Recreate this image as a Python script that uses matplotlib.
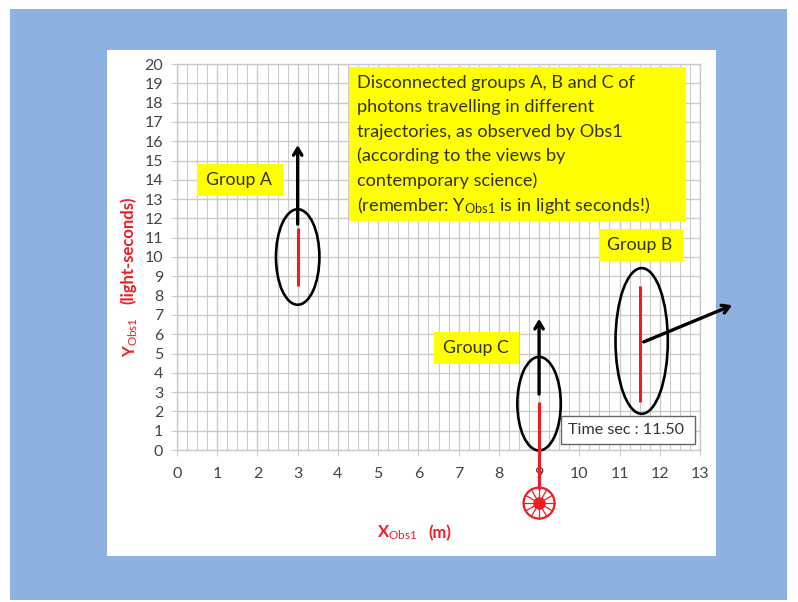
import numpy as np
import matplotlib
matplotlib.use("Agg")
import matplotlib.pyplot as plt
from matplotlib.patches import Ellipse, Rectangle

plt.rcParams['font.family'] = ['Lato', 'DejaVu Sans']
plt.rcParams['mathtext.fontset'] = 'custom'
plt.rcParams['mathtext.rm'] = 'Lato'
plt.rcParams['mathtext.default'] = 'rm'

W, H = 798, 602
RED = '#ee1c25'
GRID = '#cacaca'
TICK = '#444444'

x_ticks = list(range(0, 14))
y_ticks = list(range(0, 21))

# group ellipses: centre x, centre y, width, height
ellipse_x = [3.0, 9.0, 11.55]
ellipse_y = [10.0, 2.4, 5.65]
ellipse_w = [1.08, 1.08, 1.3]
ellipse_h = [4.95, 4.85, 7.55]

# red photon lines
red_x = [3.0, 9.0, 11.5]
red_start = [8.5, -2.0, 2.5]
red_end = [11.5, 2.5, 8.5]

# velocity arrows
arrow_from = [(3.0, 11.7), (9.0, 2.9), (11.6, 5.6)]
arrow_to = [(3.0, 15.8), (9.0, 6.8), (13.8, 7.5)]

observer = (9.0, -2.75)
time_label = 'Time sec : 11.50'

fig = plt.figure(figsize=(W / 100, H / 100), dpi=100, facecolor='white')


def fig_rect(x0, y0, x1, y1, **kw):
    # pixel box, y measured from the top
    fig.add_artist(Rectangle((x0 / W, 1 - y1 / H), (x1 - x0) / W, (y1 - y0) / H,
                             transform=fig.transFigure, zorder=-5, **kw))


fig_rect(10, 9, 787, 600, facecolor='#8db2e2', edgecolor='none')
fig_rect(107, 50, 716, 556, facecolor='white', edgecolor='none')

ax = fig.add_axes([177 / W, 1 - 450 / H, (700 - 177) / W, (450 - 64) / H])
ax.set_xlim(0, 13)
ax.set_ylim(0, 20)
ax.patch.set_alpha(0)
ax.set_xticks(x_ticks)
ax.set_yticks(y_ticks)
ax.set_xticks(np.arange(0, 13.01, 0.25), minor=True)
ax.grid(which='major', color=GRID, lw=1.0)
ax.grid(which='minor', axis='x', color=GRID, lw=0.8)
ax.set_axisbelow(True)
ax.tick_params(which='major', length=4, color=GRID, labelcolor=TICK, labelsize=11.5)
ax.tick_params(axis='x', pad=8)
ax.tick_params(axis='y', pad=6)
ax.tick_params(which='minor', length=0)
for s in ax.spines.values():
    s.set_color(GRID)
    s.set_linewidth(1.0)


def px_x(p):
    return (p - 177) / (700 - 177) * 13


def px_y(p):
    return (450 - p) / (450 - 64) * 20


def label_box(x0, y0, x1, y1, txt, tx, ty, size=12.8):
    ax.add_patch(Rectangle((px_x(x0), px_y(y1)), px_x(x1) - px_x(x0), px_y(y0) - px_y(y1),
                           facecolor='#ffff00', edgecolor='none', zorder=3))
    ax.text(px_x(tx), px_y(ty), txt, fontsize=size, color='#333300', va='center', zorder=4)


label_box(197, 164, 283, 196, 'Group A', 206, 180)
label_box(599, 229, 683, 261, 'Group B', 607, 245)
label_box(434, 332, 519, 364, 'Group C', 443, 348)
label_box(349, 67, 686, 221, '', 357, 80)

para = ['Disconnected groups A, B and C of',
        'photons travelling in different',
        'trajectories, as observed by Obs1',
        '(according to the views by',
        'contemporary science)',
        r'(remember: Y$_{\mathrm{Obs1}}$ is in light seconds!)']
for i, line in enumerate(para):
    ax.text(px_x(357), px_y(83 + i * 24.4), line, fontsize=13.1, color='#333300',
            va='center', zorder=4)

for cx, cy, w, h in zip(ellipse_x, ellipse_y, ellipse_w, ellipse_h):
    ax.add_patch(Ellipse((cx, cy), w, h, fill=False, edgecolor='black', lw=1.9,
                         zorder=5, clip_on=False))

for rx, a, b in zip(red_x, red_start, red_end):
    ax.plot([rx, rx], [a, b], color=RED, lw=2.2, zorder=6, clip_on=False,
            solid_capstyle='butt')

for a, b in zip(arrow_from, arrow_to):
    ax.annotate('', xy=b, xytext=a, annotation_clip=False, zorder=6,
                arrowprops=dict(arrowstyle='->,head_width=0.3,head_length=0.5', color='black',
                                lw=2.4, shrinkA=0, shrinkB=0))

# observer eye below the axis
r_x = 15.5 / 523 * 13
r_y = 15.5 / 386 * 20
ax.add_patch(Ellipse(observer, r_x * 2, r_y * 2, fill=False, edgecolor=RED, lw=1.6,
                     zorder=6, clip_on=False))
ax.plot(*observer, 'o', color=RED, ms=8, zorder=7, clip_on=False)
for ang in np.arange(0, 360, 30):
    ax.plot([observer[0], observer[0] + r_x * np.cos(np.radians(ang))],
            [observer[1], observer[1] + r_y * np.sin(np.radians(ang))],
            color=RED, lw=0.9, zorder=6, clip_on=False)

ax.add_patch(Rectangle((px_x(561), px_y(444)), px_x(695) - px_x(561), px_y(416) - px_y(444),
                       facecolor='white', edgecolor='#666666', lw=1.0, zorder=8))
ax.text(px_x(626), px_y(430), time_label, fontsize=11.6, color='#333333',
        ha='center', va='center', zorder=9)

fig.text(377 / W, 1 - 533 / H, r'X$_{\mathrm{Obs1}}$', color=RED, fontsize=12,
         fontweight='bold', va='center')
fig.text(428 / W, 1 - 533 / H, '(m)', color=RED, fontsize=12, fontweight='bold', va='center')
fig.text(131 / W, 1 - 337 / H, r'Y$_{\mathrm{Obs1}}$', color=RED, fontsize=12,
         fontweight='bold', rotation=90, ha='center', va='center')
fig.text(128 / W, 1 - 250 / H, '(light-seconds)', color=RED, fontsize=12,
         fontweight='bold', rotation=90, ha='center', va='center')

fig.savefig('out.png', dpi=100)
